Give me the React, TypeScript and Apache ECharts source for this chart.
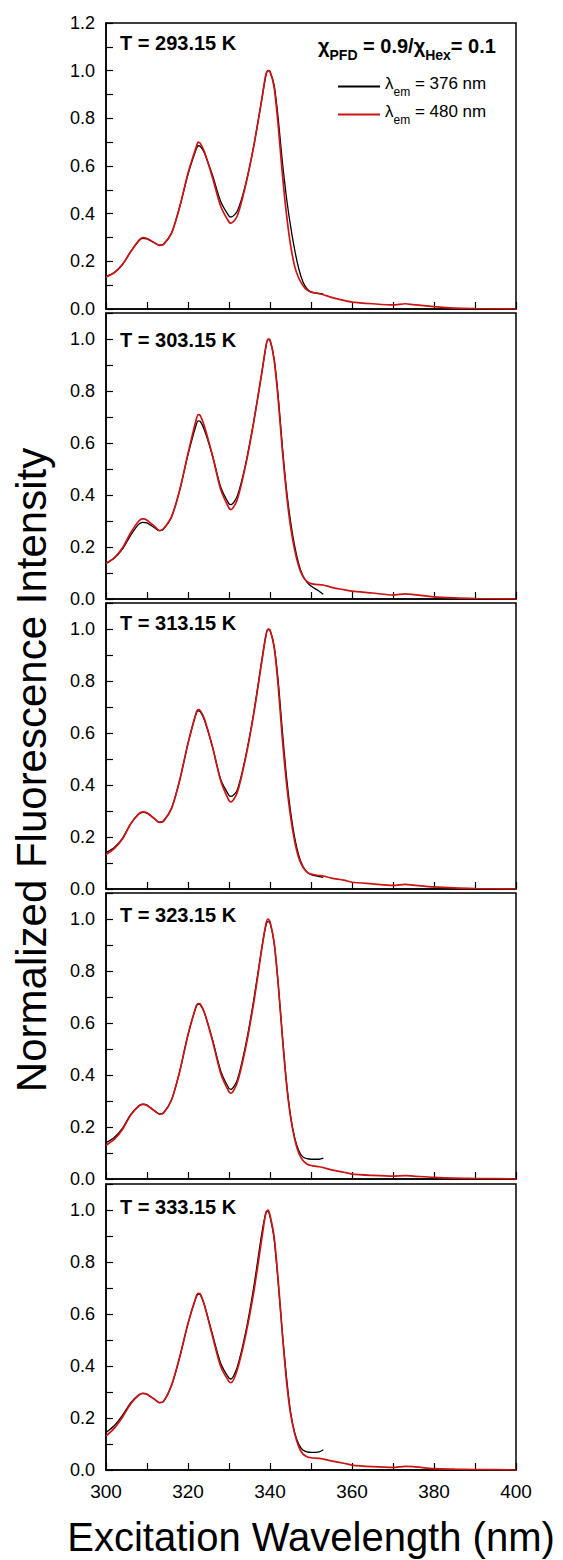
import React, { useEffect, useRef } from 'react';
import * as echarts from 'echarts';

// Excitation wavelength (nm)
const WAVELENGTHS = [
  300, 302, 304, 306, 308, 309, 310, 312, 313, 314, 316, 318, 320, 322, 322.5, 323, 324, 326, 328, 330,
  330.5, 332, 334, 336, 338, 339, 339.5, 340, 341, 342, 343, 344, 345, 346, 347, 348, 349, 350, 352, 353,
  355, 358, 360, 365, 370, 373, 375, 380, 385, 390, 400,
];

const TEMPERATURES = ['293.15', '303.15', '313.15', '323.15', '333.15'];

// λem = 376 nm (black), recorded up to 353 nm
const EM376_293 = [
  0.136, 0.153, 0.187, 0.24, 0.285, 0.296, 0.294, 0.276, 0.268, 0.272, 0.32, 0.43, 0.565, 0.67, 0.685, 0.683, 0.655, 0.56, 0.45, 0.39,
  0.386, 0.41, 0.52, 0.68, 0.88, 0.98, 1.0, 0.995, 0.94, 0.8, 0.62, 0.47, 0.35, 0.25, 0.17, 0.115, 0.085, 0.072, 0.065, 0.063,
];
const EM376_303 = [
  0.138, 0.157, 0.192, 0.245, 0.288, 0.295, 0.293, 0.272, 0.263, 0.268, 0.315, 0.42, 0.555, 0.67, 0.685, 0.683, 0.65, 0.55, 0.43, 0.366,
  0.363, 0.395, 0.515, 0.68, 0.87, 0.97, 0.998, 0.995, 0.925, 0.78, 0.59, 0.425, 0.3, 0.205, 0.135, 0.09, 0.065, 0.05, 0.03, 0.018,
];
const EM376_313 = [
  0.14, 0.16, 0.195, 0.25, 0.288, 0.295, 0.292, 0.268, 0.257, 0.262, 0.312, 0.42, 0.56, 0.675, 0.685, 0.682, 0.65, 0.545, 0.42, 0.36,
  0.356, 0.38, 0.505, 0.675, 0.88, 0.975, 0.998, 0.995, 0.935, 0.8, 0.61, 0.435, 0.3, 0.2, 0.13, 0.088, 0.066, 0.055, 0.048, 0.045,
];
const EM376_323 = [
  0.14, 0.16, 0.195, 0.248, 0.282, 0.288, 0.284, 0.26, 0.25, 0.254, 0.305, 0.415, 0.555, 0.663, 0.673, 0.67, 0.64, 0.535, 0.415, 0.348,
  0.345, 0.38, 0.51, 0.685, 0.89, 0.975, 0.99, 0.985, 0.91, 0.75, 0.555, 0.375, 0.245, 0.16, 0.11, 0.085, 0.078, 0.076, 0.076, 0.08,
];
const EM376_333 = [
  0.144, 0.17, 0.21, 0.258, 0.289, 0.295, 0.291, 0.27, 0.259, 0.263, 0.325, 0.435, 0.563, 0.665, 0.676, 0.674, 0.635, 0.52, 0.41, 0.353,
  0.35, 0.395, 0.525, 0.7, 0.91, 0.99, 0.995, 0.975, 0.89, 0.72, 0.53, 0.36, 0.225, 0.145, 0.1, 0.077, 0.07, 0.068, 0.07, 0.078,
];

// λem = 480 nm (red)
const EM480_293 = [
  0.134, 0.152, 0.186, 0.24, 0.288, 0.3, 0.296, 0.276, 0.267, 0.27, 0.318, 0.43, 0.57, 0.68, 0.7, 0.695, 0.66, 0.55, 0.43, 0.365,
  0.36, 0.39, 0.515, 0.68, 0.88, 0.985, 1.0, 0.997, 0.93, 0.77, 0.57, 0.4, 0.27, 0.18, 0.13, 0.1, 0.08, 0.071, 0.064, 0.06,
  0.049, 0.036, 0.029, 0.022, 0.017, 0.022, 0.018, 0.01, 0.004, 0.002, 0.0,
];
const EM480_303 = [
  0.136, 0.158, 0.196, 0.254, 0.3, 0.308, 0.303, 0.277, 0.263, 0.27, 0.318, 0.42, 0.56, 0.69, 0.709, 0.705, 0.664, 0.549, 0.42, 0.35,
  0.344, 0.382, 0.51, 0.677, 0.87, 0.972, 1.0, 0.997, 0.92, 0.767, 0.574, 0.408, 0.28, 0.19, 0.126, 0.087, 0.068, 0.059, 0.055, 0.054,
  0.045, 0.036, 0.03, 0.023, 0.015, 0.02, 0.017, 0.008, 0.004, 0.002, 0.0,
];
const EM480_313 = [
  0.132, 0.155, 0.192, 0.25, 0.29, 0.297, 0.293, 0.268, 0.256, 0.26, 0.31, 0.42, 0.56, 0.678, 0.69, 0.686, 0.655, 0.545, 0.415, 0.34,
  0.335, 0.37, 0.5, 0.67, 0.875, 0.975, 1.0, 0.997, 0.93, 0.78, 0.58, 0.41, 0.28, 0.185, 0.12, 0.085, 0.065, 0.057, 0.052, 0.05,
  0.042, 0.034, 0.026, 0.02, 0.014, 0.018, 0.015, 0.008, 0.004, 0.002, 0.0,
];
const EM480_323 = [
  0.13, 0.152, 0.19, 0.245, 0.28, 0.287, 0.283, 0.26, 0.25, 0.253, 0.305, 0.415, 0.555, 0.665, 0.675, 0.673, 0.64, 0.53, 0.405, 0.335,
  0.33, 0.37, 0.5, 0.675, 0.885, 0.98, 1.0, 0.99, 0.91, 0.75, 0.55, 0.37, 0.24, 0.155, 0.1, 0.072, 0.058, 0.052, 0.047, 0.044,
  0.035, 0.026, 0.019, 0.014, 0.011, 0.013, 0.011, 0.006, 0.003, 0.002, 0.0,
];
const EM480_333 = [
  0.131, 0.16, 0.203, 0.254, 0.288, 0.295, 0.291, 0.27, 0.259, 0.263, 0.327, 0.436, 0.564, 0.667, 0.679, 0.677, 0.635, 0.513, 0.397, 0.34,
  0.336, 0.385, 0.513, 0.68, 0.89, 0.99, 1.0, 0.98, 0.897, 0.73, 0.526, 0.346, 0.218, 0.141, 0.09, 0.062, 0.051, 0.047, 0.045, 0.042,
  0.035, 0.026, 0.019, 0.013, 0.01, 0.014, 0.013, 0.005, 0.003, 0.002, 0.0,
];

const BLACK_SERIES = [EM376_293, EM376_303, EM376_313, EM376_323, EM376_333];
const RED_SERIES = [EM480_293, EM480_303, EM480_313, EM480_323, EM480_333];
const NAME_376 = '376 nm';
const NAME_480 = '480 nm';

const FONT = '"Liberation Sans", Arial, Helvetica, sans-serif';
const RED = '#cc1414';

// layout
const GRID_TOPS = [23, 313, 603, 893, 1184];
const GRID_H = 286;
const Y_MAX = [1.2, 1.1, 1.1, 1.1, 1.1];
const LABEL_Y = [43, 340, 623, 915, 1207];

const toPairs = (ys: number[]) => ys.map((y, i) => [WAVELENGTHS[i], y]);

export default function App() {
  const ref = useRef<HTMLDivElement>(null);

  useEffect(() => {
    if (!ref.current) return;
    const chart = echarts.init(ref.current, null, { renderer: 'svg' });

    const grid = GRID_TOPS.map((top) => ({
      left: 106,
      width: 410,
      top,
      height: GRID_H,
      show: true,
      borderColor: '#000',
      borderWidth: 1.5,
      backgroundColor: 'transparent',
    }));

    const xAxis = GRID_TOPS.map((_, i) => ({
      type: 'value',
      gridIndex: i,
      min: 300,
      max: 400,
      interval: 10,
      axisLine: { show: true, onZero: false, lineStyle: { color: '#000', width: 1.5 } },
      axisTick: { show: true, inside: true, length: 7, lineStyle: { color: '#000', width: 1.2 } },
      splitLine: { show: false },
      axisLabel: {
        show: i === GRID_TOPS.length - 1,
        margin: 12,
        fontSize: 19,
        fontFamily: FONT,
        color: '#000',
        formatter: (v: number) => (Math.round(v) % 20 === 0 ? String(Math.round(v)) : ''),
      },
    }));

    const yAxis = GRID_TOPS.map((_, i) => ({
      type: 'value',
      gridIndex: i,
      min: 0,
      max: Y_MAX[i],
      interval: 0.1,
      axisLine: { show: true, onZero: false, lineStyle: { color: '#000', width: 1.5 } },
      axisTick: { show: true, inside: true, length: 7, lineStyle: { color: '#000', width: 1.2 } },
      splitLine: { show: false },
      axisLabel: {
        margin: 11,
        fontSize: 18,
        fontFamily: FONT,
        color: '#000',
        formatter: (v: number) => {
          const t = Math.round(v * 10);
          return t % 2 === 0 ? (t / 10).toFixed(1) : '';
        },
      },
    }));

    const series: any[] = [];
    GRID_TOPS.forEach((_, i) => {
      series.push({
        name: NAME_376,
        type: 'line',
        xAxisIndex: i,
        yAxisIndex: i,
        data: toPairs(BLACK_SERIES[i]),
        showSymbol: false,
        smooth: 0.25,
        color: '#000',
        lineStyle: { color: '#000', width: 1.3 },
        z: 2,
      });
      series.push({
        name: NAME_480,
        type: 'line',
        xAxisIndex: i,
        yAxisIndex: i,
        data: toPairs(RED_SERIES[i]),
        showSymbol: false,
        smooth: 0.25,
        color: RED,
        lineStyle: { color: RED, width: 1.7 },
        z: 3,
      });
    });

    const mainRich = { fontSize: 17, fontFamily: FONT, color: '#000', padding: [0, 0, 6, 0], verticalAlign: 'bottom' };
    const subRich = { fontSize: 12, fontFamily: FONT, color: '#000', verticalAlign: 'bottom' };

    const graphic: any[] = TEMPERATURES.map((t, i) => ({
      type: 'text',
      x: 120,
      y: LABEL_Y[i],
      style: {
        text: `T = ${t} K`,
        fontSize: 20,
        fontWeight: 'bold',
        fontFamily: FONT,
        fill: '#000',
        align: 'left',
        verticalAlign: 'middle',
      },
    }));

    const hm = { fontSize: 20, fontWeight: 'bold', fontFamily: FONT, color: '#000', padding: [0, 0, 6, 0], verticalAlign: 'bottom' };
    const hs = { fontSize: 14, fontWeight: 'bold', fontFamily: FONT, color: '#000', verticalAlign: 'bottom' };
    graphic.push({
      type: 'text',
      x: 318,
      y: 49,
      style: {
        text: '{m|χ}{s|PFD}{m| = 0.9/χ}{s|Hex}{m|= 0.1}',
        rich: { m: hm, s: hs },
        align: 'left',
        verticalAlign: 'middle',
      },
    });

    graphic.push({
      type: 'text',
      x: 31,
      y: 770,
      rotation: Math.PI / 2,
      style: {
        text: 'Normalized Fluorescence Intensity',
        fontSize: 42,
        fontFamily: FONT,
        fill: '#000',
        align: 'center',
        verticalAlign: 'middle',
      },
    });

    graphic.push({
      type: 'text',
      x: 311,
      y: 1537,
      style: {
        text: 'Excitation Wavelength (nm)',
        fontSize: 40,
        fontFamily: FONT,
        fill: '#000',
        align: 'center',
        verticalAlign: 'middle',
      },
    });

    chart.setOption({
      animation: false,
      backgroundColor: '#fff',
      grid,
      xAxis,
      yAxis,
      series,
      legend: {
        orient: 'vertical',
        left: 333,
        top: 70,
        itemWidth: 42,
        itemHeight: 2,
        itemGap: 5,
        itemTextGap: 7,
        icon: 'rect',
        selectedMode: false,
        data: [NAME_376, NAME_480],
        formatter: (name: string) => `{m|λ}{s|em}{m| = ${name}}`,
        textStyle: { rich: { m: mainRich, s: subRich } },
      },
      graphic,
    });

    return () => chart.dispose();
  }, []);

  return (
    <div
      ref={ref}
      style={{ position: 'absolute', left: 0, top: 0, width: 563, height: 1560, background: '#fff' }}
    />
  );
}
